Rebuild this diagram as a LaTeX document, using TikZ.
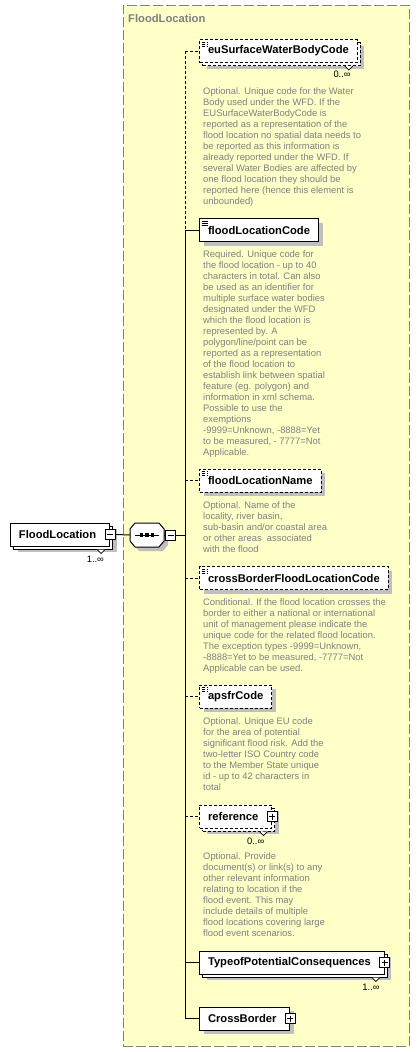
\documentclass[tikz,border=0pt]{standalone}
\usepackage{fontspec}
\setmainfont{Liberation Sans}
\usetikzlibrary{positioning, shadows}
\definecolor{groupfill}{HTML}{FFFFC8}
\definecolor{docgray}{HTML}{808080}
\tikzset{
  groupbox/.style={rectangle, draw=docgray, fill=groupfill, line width=1pt, dash pattern=on 10pt off 3pt},
  grouptitle/.style={anchor=west, inner sep=0pt, text=docgray, font=\fontsize{11.2}{13}\selectfont\bfseries},
  elem/.style={rectangle, draw=black, fill=white, line width=1pt, minimum height=23pt, inner xsep=8.5pt, inner ysep=0pt, anchor=west, font=\fontsize{11.2}{13}\selectfont\bfseries},
  optional/.style={dash pattern=on 3pt off 2pt},
  single/.style={drop shadow={shadow xshift=4pt, shadow yshift=-4pt, fill=black!25, opacity=1}},
  stacked/.style={drop shadow={shadow xshift=7pt, shadow yshift=-6pt, fill=black!25, opacity=1},
    copy shadow={shadow xshift=3pt, shadow yshift=-3pt, draw=black, fill=white, line width=1pt, #1}},
  stacked/.default={solid},
  simpletype/.style={path picture={\draw[line width=0.8pt] ([shift={(2pt,-2.5pt)}]path picture bounding box.north west) -- ++(6pt,0pt) ++(-6pt,-2pt) -- ++(6pt,0pt) ++(-6pt,-2pt) -- ++(6pt,0pt);}},
  expander/.style={execute at end node={\hspace{5pt}}},
  toggle/.style={rectangle, draw=black, fill=white, line width=0.8pt, minimum size=10pt, inner sep=0pt},
  plus/.style={toggle, path picture={\draw[line width=0.8pt] ([xshift=2pt]path picture bounding box.west) -- ([xshift=-2pt]path picture bounding box.east) ([yshift=-2pt]path picture bounding box.north) -- ([yshift=2pt]path picture bounding box.south);}},
  minus/.style={toggle, path picture={\draw[line width=0.8pt] ([xshift=2pt]path picture bounding box.west) -- ([xshift=-2pt]path picture bounding box.east);}},
  seqbox/.style={rectangle, minimum width=34pt, minimum height=24pt, inner sep=0pt, outer sep=0pt},
  seqshape/.style={draw=black, fill=white, line width=1pt, drop shadow={shadow xshift=4pt, shadow yshift=-4pt, fill=black!25, opacity=1}},
  doc/.style={inner sep=0pt, align=left, text=docgray, font=\fontsize{9.4}{11}\selectfont},
  mult/.style={inner sep=0pt, font=\fontsize{9.4}{11}\selectfont},
  notch/.style={draw=black, fill=white, line width=0.8pt},
  link/.style={draw=black, line width=1pt},
  optlink/.style={link, dash pattern=on 3pt off 2pt}
}
\begin{document}
\begin{tikzpicture}[x=1pt, y=-1pt]
  \useasboundingbox (0,0) rectangle (420,1052);
  \node[groupbox, minimum width=286pt, minimum height=1041pt] (group) at (266,525.5) {};
  \node[grouptitle] (groupTitle) at (128,18) {FloodLocation};
  \coordinate (spine) at (185,0);

  \node[elem, stacked, expander] (root) at (10,534.5) {FloodLocation};
  \node[minus] (rootMinus) at (root.east) {};
  \node[mult, below left=9pt and 6pt of root.south east] (rootMult) {1..∞};
  \node[seqbox] (seq) at (147,535) {};
  \draw[seqshape] ([xshift=5pt]seq.north west) -- ([xshift=-5pt]seq.north east) -- ([yshift=-6pt]seq.north east)
    -- ([yshift=6pt]seq.south east) -- ([xshift=-5pt]seq.south east) -- ([xshift=5pt]seq.south west)
    -- ([yshift=6pt]seq.south west) -- ([yshift=-6pt]seq.north west) -- cycle;
  \draw[link] ([xshift=5pt]seq.west) -- ([xshift=-5pt]seq.east);
  \foreach \dx in {-5.5,0,5.5}
    \fill ([xshift=\dx pt]seq.center) +(-1.8pt,-1.8pt) rectangle +(1.8pt,1.8pt);
  \node[minus] (seqMinus) at (170.5,535) {};

  \node[elem, optional, stacked=optional, simpletype] (euCode) at (199,51) {euSurfaceWaterBodyCode};
  \node[mult, below left=8pt and 7pt of euCode.south east] (euMult) {0..∞};
  \node[doc, below right=24pt and 4pt of euCode.south west] (euDoc) {Optional. Unique code for the Water\\Body used under the WFD. If the\\EUSurfaceWaterBodyCode is\\reported as a representation of the\\flood location no spatial data needs to\\be reported as this information is\\already reported under the WFD. If\\several Water Bodies are affected by\\one flood location they should be\\reported here (hence this element is\\unbounded)};

  \node[elem, single, simpletype] (locCode) at (199,230) {floodLocationCode};
  \node[doc, below right=8.5pt and 4pt of locCode.south west] (locCodeDoc) {Required. Unique code for\\the flood location - up to 40\\characters in total. Can also\\be used as an identifier for\\multiple surface water bodies\\designated under the WFD\\which the flood location is\\represented by. A\\polygon/line/point can be\\reported as a representation\\of the flood location to\\establish link between spatial\\feature (eg. polygon) and\\information in xml schema.\\Possible to use the\\exemptions\\-9999=Unknown, -8888=Yet\\to be measured, - 7777=Not\\Applicable.};

  \node[elem, optional, single, simpletype] (locName) at (199,480.5) {floodLocationName};
  \node[doc, below right=8.5pt and 4pt of locName.south west] (locNameDoc) {Optional. Name of the\\locality, river basin,\\sub-basin and/or coastal area\\or other areas\ \ associated\\with the flood};

  \node[elem, optional, single, simpletype] (crossCode) at (199,578) {crossBorderFloodLocationCode};
  \node[doc, below right=8.5pt and 4pt of crossCode.south west] (crossCodeDoc) {Conditional. If the flood location crosses the\\border to either a national or international\\unit of management please indicate the\\unique code for the related flood location.\\The exception types -9999=Unknown,\\-8888=Yet to be measured, -7777=Not\\Applicable can be used.};

  \node[elem, optional, single, simpletype] (apsfr) at (199,696.5) {apsfrCode};
  \node[doc, below right=8.5pt and 4pt of apsfr.south west] (apsfrDoc) {Optional. Unique EU code\\for the area of potential\\significant flood risk. Add the\\two-letter ISO Country code\\to the Member State unique\\id - up to 42 characters in\\total};

  \node[elem, optional, stacked=optional, expander] (reference) at (199,816.5) {reference};
  \node[plus] (referencePlus) at (reference.east) {};
  \node[mult, below left=9pt and 8pt of reference.south east] (referenceMult) {0..∞};
  \node[doc, below right=24pt and 4pt of reference.south west] (referenceDoc) {Optional. Provide\\document(s) or link(s) to any\\other relevant information\\relating to location if the\\flood event. This may\\include details of multiple\\flood locations covering large\\flood event scenarios.};

  \node[elem, stacked, expander] (consequences) at (199,962.5) {TypeofPotentialConsequences};
  \node[plus] (consequencesPlus) at (consequences.east) {};
  \node[mult, below left=9pt and 5pt of consequences.south east] (consequencesMult) {1..∞};

  \node[elem, single, expander] (crossBorder) at (199,1018.5) {CrossBorder};
  \node[plus] (crossBorderPlus) at (crossBorder.east) {};

  \foreach \n in {root, euCode, reference, consequences}
    \draw[notch] ([shift={(-13pt,-3pt)}]\n.south east) -- ++(4pt,-4pt) -- ++(4pt,4pt);

  \draw[link] (rootMinus.east) -- (seq.west);
  \draw[link] (seq.east) -- (seqMinus.west);
  \draw[link] (seqMinus.east) -- (seqMinus.east -| spine);
  \draw[optlink] (euCode.west -| spine) -- (locCode.west -| spine);
  \draw[link] (locCode.west -| spine) -- (crossBorder.west -| spine);
  \draw[optlink] (euCode.west -| spine) -- (euCode.west);
  \draw[link] (locCode.west -| spine) -- (locCode.west);
  \draw[optlink] (locName.west -| spine) -- (locName.west);
  \draw[optlink] (crossCode.west -| spine) -- (crossCode.west);
  \draw[optlink] (apsfr.west -| spine) -- (apsfr.west);
  \draw[optlink] (reference.west -| spine) -- (reference.west);
  \draw[link] (consequences.west -| spine) -- (consequences.west);
  \draw[link] (crossBorder.west -| spine) -- (crossBorder.west);
\end{tikzpicture}
\end{document}
